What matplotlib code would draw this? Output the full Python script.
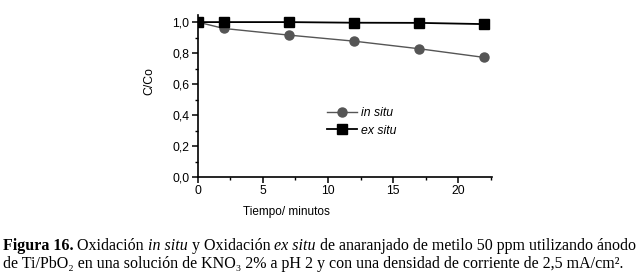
import matplotlib
matplotlib.use("Agg")
import matplotlib.pyplot as plt
from matplotlib.ticker import MultipleLocator, FuncFormatter

t = [0, 2, 7, 12, 17, 22]
in_situ = [1.0, 0.959, 0.916, 0.877, 0.828, 0.772]
ex_situ = [1.0, 1.0, 1.0, 0.996, 0.995, 0.987]
labels = ["in situ", "ex situ"]

fig = plt.figure(figsize=(6.4, 2.75), dpi=100)
ax = fig.add_axes([0.309, 0.356, 0.46, 0.589])
ax.plot(t, in_situ, color="#555555", lw=1.0, marker="o", ms=6.5,
        mfc="#555555", mec="#555555", label=labels[0])
ax.plot(t, ex_situ, color="black", lw=1.3, marker="s", ms=6.5,
        mfc="black", mec="black", label=labels[1])
ax.set_xlim(0, 22.6)
ax.set_ylim(0, 1.045)
ax.xaxis.set_major_locator(MultipleLocator(5))
ax.xaxis.set_minor_locator(MultipleLocator(2.5))
ax.yaxis.set_major_locator(MultipleLocator(0.2))
ax.yaxis.set_minor_locator(MultipleLocator(0.1))
ax.yaxis.set_major_formatter(FuncFormatter(lambda v, p: f"{v:.1f}".replace(".", ",")))
for s in ["top", "right"]:
    ax.spines[s].set_visible(False)
for s in ["left", "bottom"]:
    ax.spines[s].set_linewidth(1.2)
ax.tick_params(which="major", direction="out", length=4, width=1.1,
               labelsize=8.8, pad=2)
ax.tick_params(which="minor", direction="out", length=2.5, width=1.0)
for lab in ax.get_xticklabels() + ax.get_yticklabels():
    lab.set_fontfamily("Liberation Sans")
ax.set_xlabel("Tiempo/ minutos", fontsize=8.5, family="Liberation Sans", labelpad=7)
ax.xaxis.set_label_coords(0.30, -0.18)
ax.set_ylabel("C/Co", fontsize=8.8, family="Liberation Sans")
ax.yaxis.set_label_coords(-0.145, 0.59)
leg = ax.legend(loc="upper left", bbox_to_anchor=(0.40, 0.50), frameon=False,
                handlelength=2.5, handletextpad=0.35, labelspacing=0.45,
                prop={"family": "Liberation Sans", "style": "italic", "size": 8.8})

# Caption with mixed styles
renderer = fig.canvas.get_renderer()
fs = 11.5
def draw_line(pieces, x0, y0):
    x = x0
    for txt, w, st in pieces:
        tt = fig.text(x, y0, txt, fontsize=fs, family="Liberation Serif",
                      weight=w, style=st, va="baseline", ha="left")
        bb = tt.get_window_extent(renderer=renderer)
        x = x + bb.width / fig.bbox.width

line1 = [("Figura 16.", "bold", "normal"),
         (" Oxidación ", "normal", "normal"),
         ("in situ", "normal", "italic"),
         (" y Oxidación ", "normal", "normal"),
         ("ex situ", "normal", "italic"),
         (" de anaranjado de metilo 50 ppm utilizando ánodo", "normal", "normal")]
line2 = [("de Ti/PbO₂ en una solución de KNO₃ 2% a pH 2 y con una densidad de corriente de 2,5 mA/cm².",
          "normal", "normal")]
draw_line(line1, 0.004, 1 - 250 / 275)
draw_line(line2, 0.004, 1 - 268 / 275)

fig.savefig("out.png", dpi=100)
